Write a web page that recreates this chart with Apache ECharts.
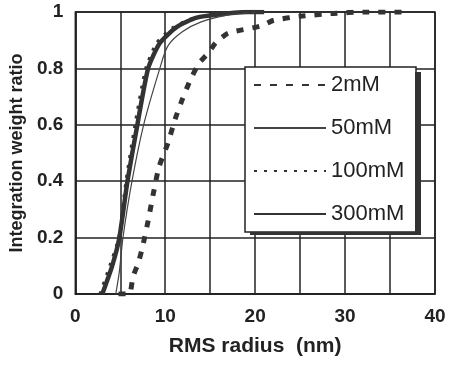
<!DOCTYPE html>
<html>
<head>
<meta charset="utf-8">
<script src="https://cdn.jsdelivr.net/npm/echarts@6/dist/echarts.min.js"></script>
<style>
html,body{margin:0;padding:0;background:#fff;}
#chart{width:449px;height:370px;}
</style>
</head>
<body>
<div id="chart"></div>
<script>
// RMS radius (nm) and integration weight ratio per series
var seriesNames = ['2mM', '50mM', '100mM', '300mM'];

var r2 = [4.8, 6.0, 6.4, 7.0, 7.5, 8.1, 8.7, 9.3, 10.3, 11.1, 11.9, 12.8, 13.8, 14.8, 15.6, 17.0, 20.6, 22.0, 25.0, 28.7, 32.0, 37.0];
var w2 = [0, 0, 0.06, 0.11, 0.17, 0.26, 0.36, 0.45, 0.535, 0.62, 0.69, 0.76, 0.82, 0.855, 0.89, 0.925, 0.95, 0.97, 0.985, 0.995, 1.0, 1.0];

var r50 = [4.5, 4.9, 5.3, 6.3, 7.6, 9.4, 10.3, 11.9, 14.0, 17.0, 20.0];
var w50 = [0, 0.08, 0.2, 0.4, 0.6, 0.8, 0.88, 0.93, 0.965, 0.99, 1.0];

var r100 = [2.7, 3.8, 4.8, 5.6, 6.6, 7.8, 9.0, 10.8, 13.0, 16.0, 19.0, 21.0];
var w100 = [0, 0.1, 0.2, 0.4, 0.6, 0.8, 0.89, 0.945, 0.978, 0.992, 1.0, 1.0];

var r300 = [3.0, 4.1, 4.9, 5.8, 6.9, 8.1, 9.4, 11.3, 13.5, 16.5, 19.0, 21.0];
var w300 = [0, 0.1, 0.2, 0.4, 0.6, 0.8, 0.89, 0.947, 0.98, 0.993, 1.0, 1.0];

var xTicks = [0, 10, 20, 30, 40];
var yTicks = [0, 0.2, 0.4, 0.6, 0.8, 1];

function pairs(xs, ys) {
  var out = [];
  for (var i = 0; i < xs.length; i++) out.push([xs[i], ys[i]]);
  return out;
}

var FONT = 'Liberation Sans, Arial, sans-serif';
var LEG = {left: 245, top: 67, w: 170, h: 165};
var chart = echarts.init(document.getElementById('chart'));
chart.setOption({
  animation: false,
  backgroundColor: '#fff',
  grid: {left: 75, right: 14, top: 12, bottom: 76, show: true, borderColor: '#222', borderWidth: 1.5},
  xAxis: {
    type: 'value', min: 0, max: 40, interval: 5,
    name: 'RMS radius  (nm)', nameLocation: 'middle', nameGap: 42,
    nameTextStyle: {fontFamily: FONT, fontSize: 21, fontWeight: 'bold', color: '#222'},
    axisLine: {show: true, lineStyle: {color: '#222', width: 1.5}},
    axisTick: {show: false},
    splitLine: {show: true, lineStyle: {color: '#222', width: 1.5}},
    axisLabel: {
      margin: 13, fontFamily: FONT, fontSize: 19, fontWeight: 'bold', color: '#222',
      formatter: function (v) { return xTicks.indexOf(v) >= 0 ? String(v) : ''; }
    }
  },
  yAxis: {
    type: 'value', min: 0, max: 1, interval: 0.2,
    name: 'Integration weight ratio', nameLocation: 'middle', nameGap: 48,
    nameTextStyle: {fontFamily: FONT, fontSize: 18, fontWeight: 'bold', color: '#222'},
    axisLine: {show: true, lineStyle: {color: '#222', width: 1.5}},
    axisTick: {show: false},
    splitLine: {show: true, lineStyle: {color: '#222', width: 1.5}},
    axisLabel: {
      margin: 12, fontFamily: FONT, fontSize: 19, fontWeight: 'bold', color: '#222',
      formatter: function (v) {
        for (var i = 0; i < yTicks.length; i++) if (Math.abs(yTicks[i] - v) < 1e-6) return String(yTicks[i]);
        return '';
      }
    }
  },
  graphic: [
    {type: 'rect', z: 20, silent: true,
     shape: {x: LEG.left + LEG.w, y: LEG.top + 5, width: 6, height: LEG.h - 2},
     style: {fill: '#333'}},
    {type: 'rect', z: 20, silent: true,
     shape: {x: LEG.left + 5, y: LEG.top + LEG.h, width: LEG.w + 1, height: 3},
     style: {fill: '#333'}}
  ],
  legend: {
    orient: 'vertical', left: LEG.left, top: LEG.top,
    padding: [1, 10, 1, 8], itemGap: 9, itemWidth: 72, itemHeight: 14,
    backgroundColor: '#fff', borderColor: '#222', borderWidth: 1.5, borderRadius: 0,
    itemStyle: {opacity: 0},
    textStyle: {fontFamily: FONT, fontSize: 22, color: '#222', width: 75, lineHeight: 22, padding: [12, 0, 0, 0]},
    data: seriesNames
  },
  series: [
    {name: seriesNames[0], type: 'line', showSymbol: false, symbol: 'none', smooth: 0.2,
     lineStyle: {color: '#333', width: 5, type: [7, 9]}, itemStyle: {color: '#333'},
     data: pairs(r2, w2), z: 3},
    {name: seriesNames[1], type: 'line', showSymbol: false, symbol: 'none', smooth: 0.3,
     lineStyle: {color: '#444', width: 1.2, type: 'solid'}, itemStyle: {color: '#444'},
     data: pairs(r50, w50), z: 4},
    {name: seriesNames[2], type: 'line', showSymbol: false, symbol: 'none', smooth: 0.2,
     lineStyle: {color: '#333', width: 2.5, type: [3, 7]}, itemStyle: {color: '#333'},
     data: pairs(r100, w100), z: 5},
    {name: seriesNames[3], type: 'line', showSymbol: false, symbol: 'none', smooth: 0.2,
     lineStyle: {color: '#333', width: 4.5, type: 'solid'}, itemStyle: {color: '#333'},
     data: pairs(r300, w300), z: 2}
  ]
});
</script>
</body>
</html>
